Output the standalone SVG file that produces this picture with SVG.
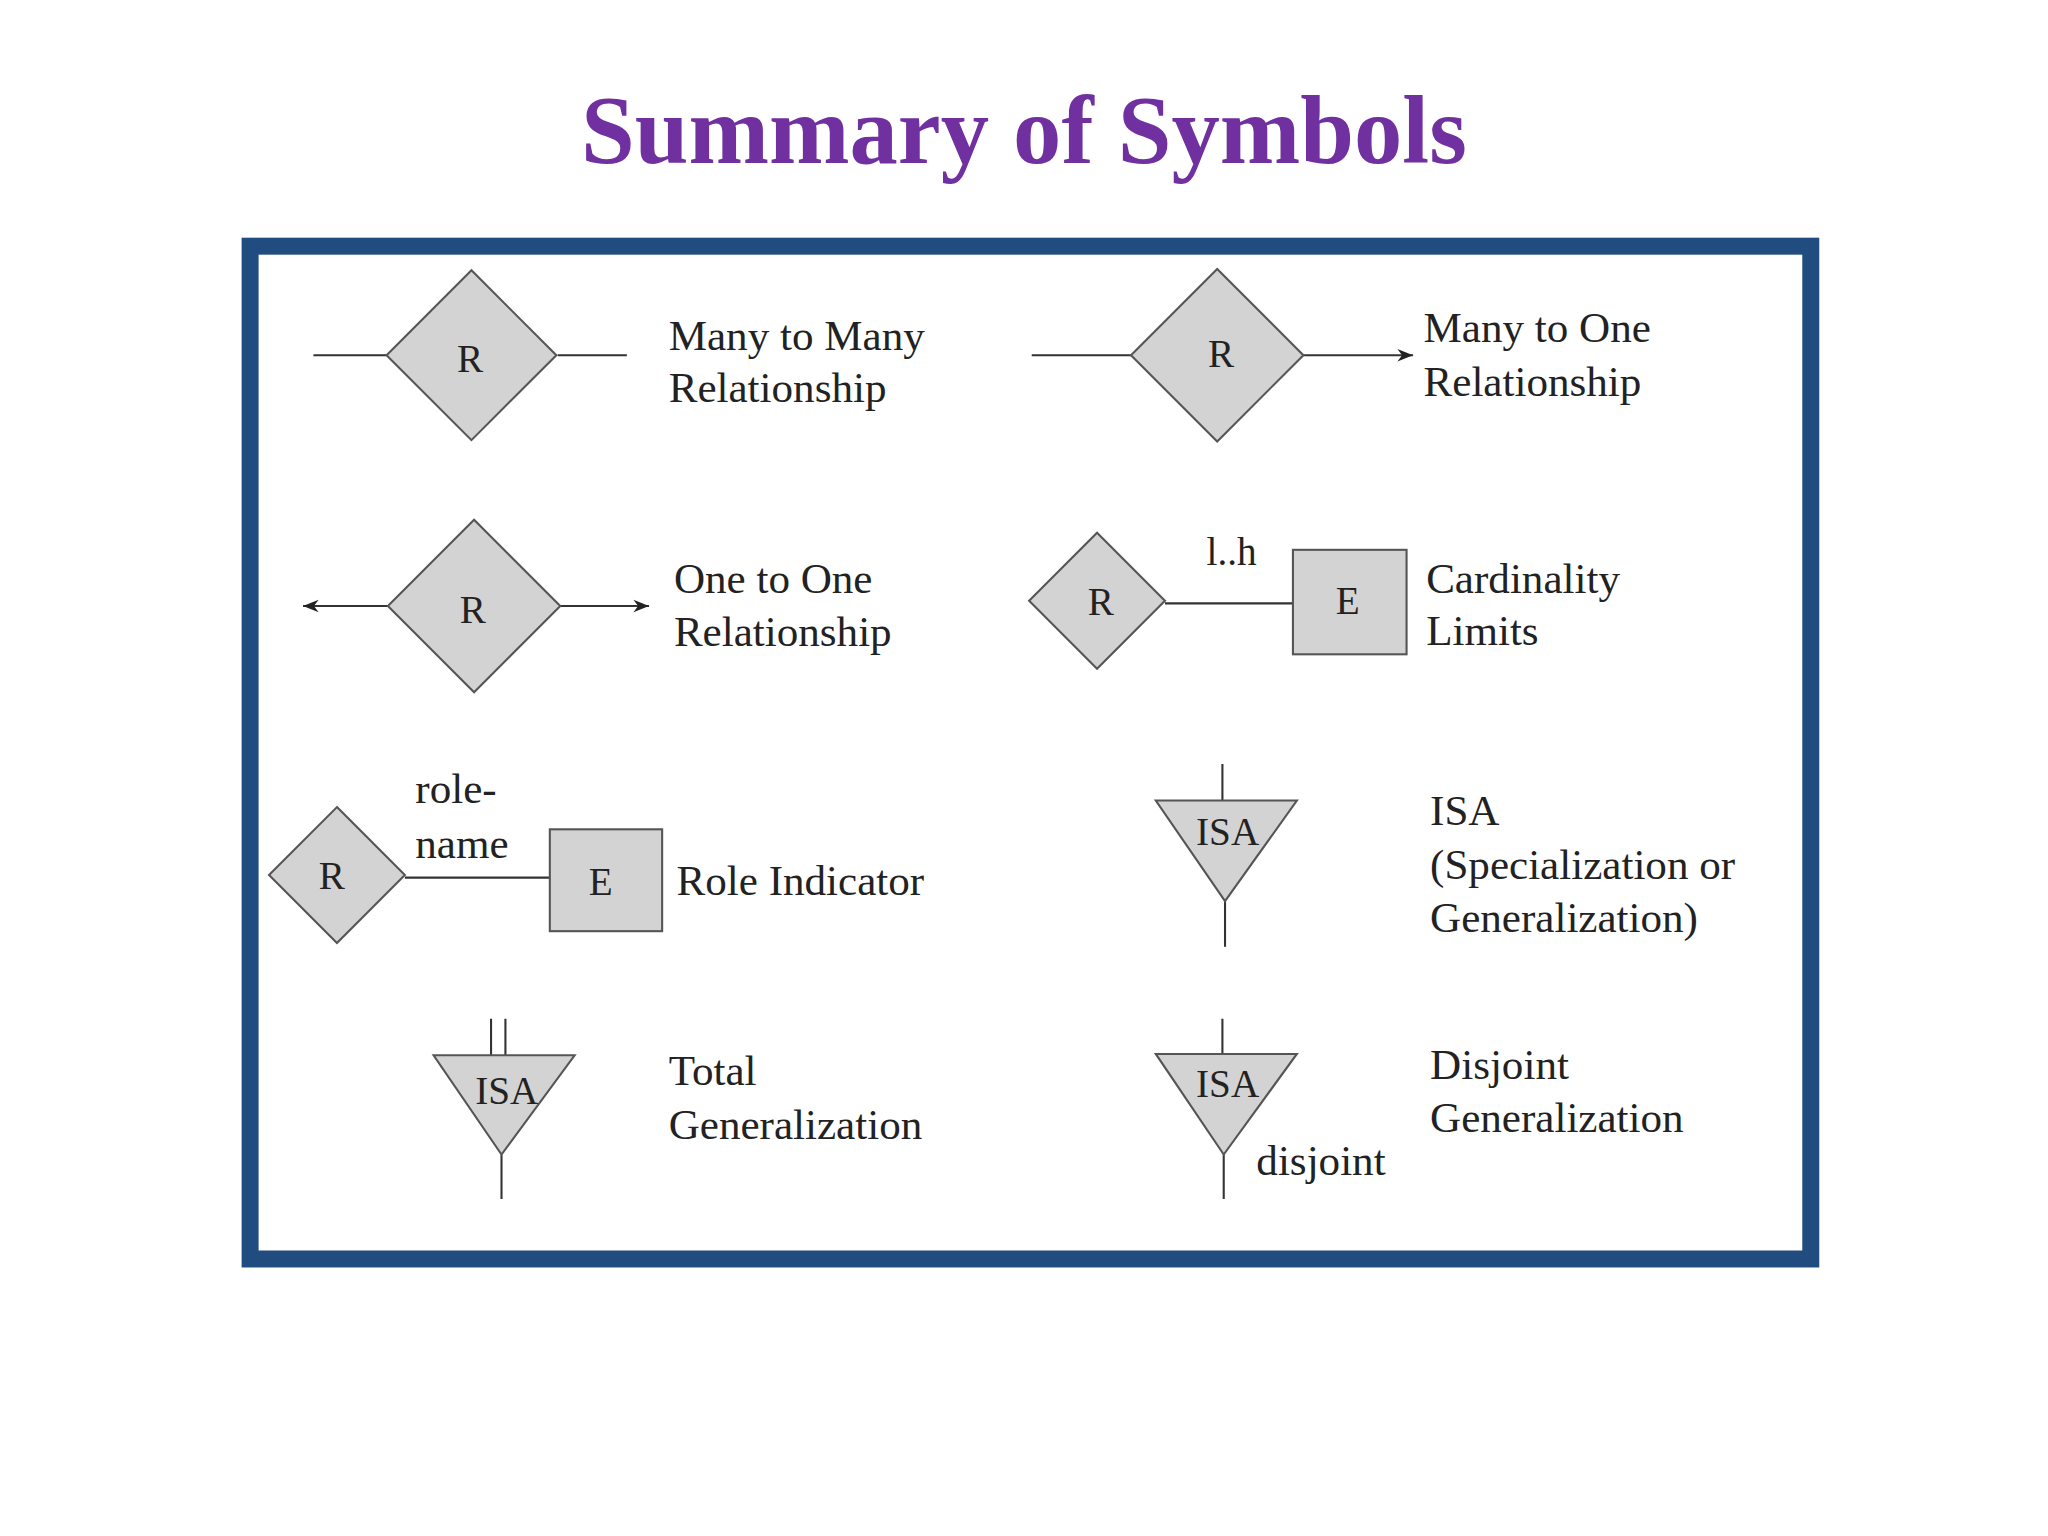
<svg xmlns="http://www.w3.org/2000/svg" width="2048" height="1536" viewBox="0 0 2048 1536">
<style>
.s{fill:#d3d3d3;stroke:#555;stroke-width:1.6}
.l{stroke:#333;stroke-width:1.6;fill:none}
.t{font-family:"Liberation Serif",serif;font-size:33px;fill:#222}
.c{font-family:"Liberation Serif",serif;font-size:30px;fill:#222;text-anchor:middle}
</style>
<defs><marker id="a" viewBox="0 0 10 10" refX="10" refY="5" markerWidth="12" markerHeight="12" markerUnits="userSpaceOnUse" orient="auto"><path d="M0,1 L10,5 L0,9 L3,5 Z" fill="#222"/></marker></defs>
<rect width="2048" height="1536" fill="#fff"/>
<g transform="scale(1.306)">
<text x="784" y="125" font-family="Liberation Serif,serif" font-weight="bold" font-size="74" fill="#7030A0" text-anchor="middle">Summary of Symbols</text>
<rect x="191.5" y="188.5" width="1195" height="775.5" fill="#fff" stroke="#214C80" stroke-width="13"/>
<g id="connectors">
<path class="l" d="M240,272H296M427,272H480M790,272H866"/>
<path class="l" d="M998,272H1082" marker-end="url(#a)"/>
<path class="l" d="M297,464H232" marker-end="url(#a)"/>
<path class="l" d="M429,464H497" marker-end="url(#a)"/>
<path class="l" d="M892,462H990M310,672H421M936,585V613M938,690V725M376,780V808M387,780V808M384,884V918M936,780V807M937,884V918"/>
</g>
<g id="mm"><polygon class="s" points="361,207 426,272 361,337 296,272"/><text class="c" x="360" y="285">R</text><text class="t" x="512" y="268">Many to Many</text><text class="t" x="512" y="308">Relationship</text></g>
<g id="mo"><polygon class="s" points="932,206 998,272 932,338 866,272"/><text class="c" x="935" y="281">R</text><text class="t" x="1090" y="262">Many to One</text><text class="t" x="1090" y="303">Relationship</text></g>
<g id="oo"><polygon class="s" points="363,398 429,464 363,530 297,464"/><text class="c" x="362" y="477">R</text><text class="t" x="516" y="454">One to One</text><text class="t" x="516" y="495">Relationship</text></g>
<g id="card"><polygon class="s" points="840,408 892,460 840,512 788,460"/><text class="c" x="843" y="471">R</text><rect class="s" x="990" y="421" width="87" height="80"/><text class="c" x="1032" y="470">E</text><text class="c" x="943" y="433">l..h</text><text class="t" x="1092" y="454">Cardinality</text><text class="t" x="1092" y="494">Limits</text></g>
<g id="role"><polygon class="s" points="258,618 310,670 258,722 206,670"/><text class="c" x="254" y="681">R</text><rect class="s" x="421" y="635" width="86" height="78"/><text class="c" x="460" y="685">E</text><text class="t" x="318" y="615">role-</text><text class="t" x="318" y="657">name</text><text class="t" x="518" y="685">Role Indicator</text></g>
<g id="isa"><polygon class="s" points="885,613 993,613 938,690"/><text class="c" x="940" y="647">ISA</text><text class="t" x="1095" y="632">ISA</text><text class="t" x="1095" y="673">(Specialization or</text><text class="t" x="1095" y="714">Generalization)</text></g>
<g id="total"><polygon class="s" points="332,808 440,808 384,884"/><text class="c" x="388" y="845">ISA</text><text class="t" x="512" y="831">Total</text><text class="t" x="512" y="872">Generalization</text></g>
<g id="disj"><polygon class="s" points="885,807 993,807 937,884"/><text class="c" x="940" y="840">ISA</text><text class="t" x="962" y="900">disjoint</text><text class="t" x="1095" y="826">Disjoint</text><text class="t" x="1095" y="867">Generalization</text></g>
</g>
</svg>
